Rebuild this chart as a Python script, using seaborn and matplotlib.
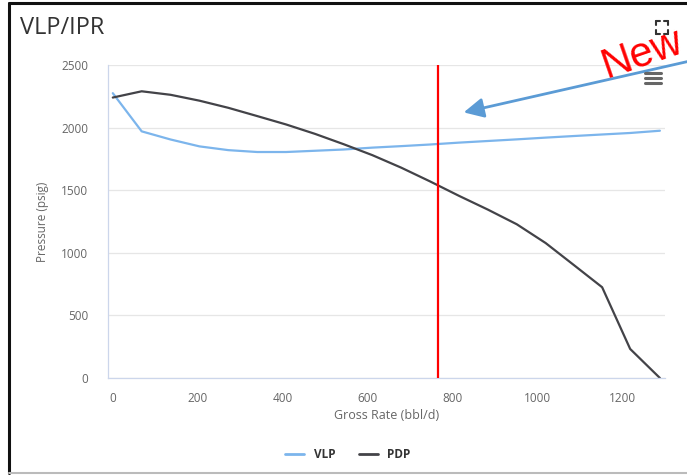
import numpy as np
import pandas as pd
import matplotlib
matplotlib.use("Agg")
import matplotlib.pyplot as plt
from matplotlib.lines import Line2D
import seaborn as sns

# ---- data ----
rate = [0, 68, 136, 204, 272, 340, 408, 476, 543, 611, 679, 747, 815, 883, 951, 1019, 1087, 1152, 1218, 1288]
vlp = [2275, 1970, 1905, 1850, 1820, 1805, 1805, 1815, 1825, 1840, 1852, 1865, 1880, 1893, 1906, 1920, 1933, 1945, 1957, 1975]
pdp = [2240, 2290, 2262, 2215, 2158, 2092, 2025, 1950, 1868, 1780, 1680, 1570, 1455, 1345, 1228, 1078, 898, 725, 232, 0]
operating_rate = 765
series_names = ["VLP", "PDP"]
series_colors = ["#7cb5ec", "#434348"]
x_ticks = [0, 200, 400, 600, 800, 1000, 1200]
y_ticks = [0, 500, 1000, 1500, 2000, 2500]

df = pd.DataFrame({
    "rate": rate * 2,
    "pressure": vlp + pdp,
    "series": ["VLP"] * len(rate) + ["PDP"] * len(rate),
})

sns.set_style("white")
plt.rcParams["font.family"] = ["Open Sans", "DejaVu Sans"]

W, H = 687, 475
fig = plt.figure(figsize=(W / 100, H / 100), dpi=100)

def fx(p):
    return p / W

def fy(p):
    return 1 - p / H

ax = fig.add_axes([fx(107.7), fy(378), fx(665) - fx(107.7), fy(65) - fy(378)])

sns.lineplot(data=df, x="rate", y="pressure", hue="series", hue_order=series_names,
             palette=dict(zip(series_names, series_colors)), linewidth=1.6,
             ax=ax, legend=False, sort=False)
ax.axvline(operating_rate, color="#ff0000", linewidth=1.6, zorder=5)

ax.set_xlim(-12, 1300)
ax.set_ylim(0, 2500)
ax.set_xticks(x_ticks)
ax.set_yticks(y_ticks)
ax.set_xticklabels([str(t) for t in x_ticks])
ax.set_yticklabels([str(t) for t in y_ticks])
ax.grid(axis="y", color="#e6e6e6", linewidth=0.9)
ax.grid(axis="x", visible=False)
ax.set_axisbelow(True)
for s in ["top", "right"]:
    ax.spines[s].set_visible(False)
for s in ["left", "bottom"]:
    ax.spines[s].set_color("#ccd6eb")
    ax.spines[s].set_linewidth(0.9)
ax.tick_params(axis="x", colors="#ccd6eb", length=7, width=0.9, labelcolor="#666666",
               labelsize=8.5, pad=3)
ax.tick_params(axis="y", length=0, labelcolor="#666666", labelsize=8.5, pad=14)
ax.set_xlabel("Gross Rate (bbl/d)", color="#666666", fontsize=9, labelpad=3)
ax.set_ylabel("Pressure (psig)", color="#666666", fontsize=8.5, labelpad=9)

# title
fig.text(fx(20), fy(28), "VLP/IPR", fontsize=17, color="#333333", va="center", ha="left")

# legend
handles = [Line2D([0], [0], color=c, linewidth=2) for c in series_colors]
leg = fig.legend(handles, series_names, loc="center", bbox_to_anchor=(fx(348), fy(455)),
                 ncol=2, frameon=False, handlelength=1.6, columnspacing=2.0,
                 prop={"weight": "bold", "size": 8.5})
for t in leg.get_texts():
    t.set_color("#333333")

# border of the screenshot
fig.add_artist(Line2D([fx(9), fx(9)], [fy(3), fy(473)], color="#111111", linewidth=2.2))
fig.add_artist(Line2D([fx(9), 1], [fy(3), fy(3)], color="#111111", linewidth=2.2))
fig.add_artist(Line2D([fx(9), 1], [fy(473), fy(473)], color="#bbbbbb", linewidth=1.5))

# hamburger menu icon
for py in [73, 78, 83]:
    fig.add_artist(Line2D([fx(645), fx(661)], [fy(py), fy(py)], color="#666666",
                          linewidth=2.2, solid_capstyle="round"))
# fullscreen icon (corner brackets)
x0, x1, y0, y1 = 656, 668, 21, 34
k = 4
ic = "#333333"
for (cx, cy, dx, dy) in [(x0, y0, 1, 1), (x1, y0, -1, 1), (x0, y1, 1, -1), (x1, y1, -1, -1)]:
    fig.add_artist(Line2D([fx(cx), fx(cx + dx * k)], [fy(cy), fy(cy)], color=ic, linewidth=1.5))
    fig.add_artist(Line2D([fx(cx), fx(cx)], [fy(cy), fy(cy + dy * k)], color=ic, linewidth=1.5))

# annotation arrow and "New"
fig.add_artist(matplotlib.patches.FancyArrowPatch(
    (fx(690), fy(61)), (fx(461), fy(113)), transform=fig.transFigure,
    arrowstyle="-|>,head_length=8,head_width=4", color="#5b9bd5", linewidth=2,
    mutation_scale=1.5))
fig.text(fx(597), fy(78), "New", fontsize=30, color="#ff0000", rotation=19,
         ha="left", va="baseline", family=["Liberation Sans", "DejaVu Sans"])

fig.savefig("out.png", dpi=100)
